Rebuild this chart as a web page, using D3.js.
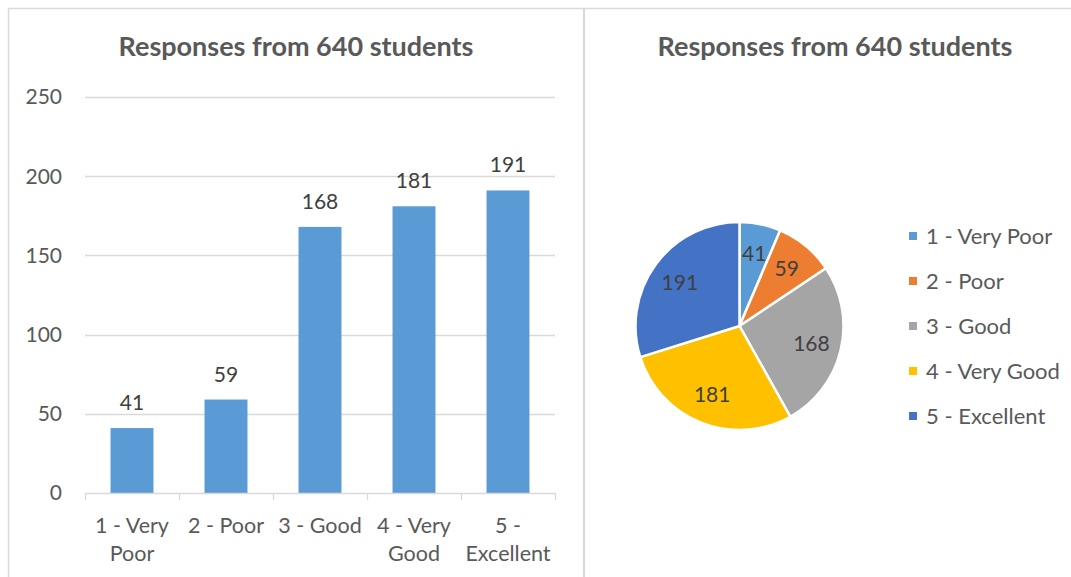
<!DOCTYPE html>
<html>
<head>
<meta charset="utf-8">
<script src="https://cdn.jsdelivr.net/npm/d3@7"></script>
<style>
html,body{margin:0;padding:0;background:#fff;}
svg{display:block;}
text{font-family:Lato,"Open Sans",sans-serif;}
</style>
</head>
<body>
<svg id="chart" width="1071" height="577"></svg>
<script>
const categories = ["1 - Very Poor","2 - Poor","3 - Good","4 - Very Good","5 - Excellent"];
const values = [41, 59, 168, 181, 191];
const xLabelLines = [["1 - Very","Poor"],["2 - Poor"],["3 - Good"],["4 - Very","Good"],["5 -","Excellent"]];
const yTicks = [0, 50, 100, 150, 200, 250];
const pieColors = ["#5B9BD5","#ED7D31","#A5A5A5","#FFC000","#4472C4"];
const titleText = "Responses from 640 students";

const svg = d3.select("#chart");
const gridColor = "#d9d9d9";
const textColor = "#595959";
const labelColor = "#404040";

// frame
svg.append("line").attr("x1",8).attr("x2",1071).attr("y1",8.5).attr("y2",8.5).attr("stroke",gridColor).attr("stroke-width",1.5);
svg.append("line").attr("x1",8.5).attr("x2",8.5).attr("y1",8).attr("y2",577).attr("stroke",gridColor).attr("stroke-width",1.5);
svg.append("line").attr("x1",584).attr("x2",584).attr("y1",8).attr("y2",577).attr("stroke",gridColor).attr("stroke-width",2);

// ---------- Bar chart ----------
const x = d3.scaleBand().domain(categories).range([85,555]).paddingInner(0.543).paddingOuter(0.2715);
const y = d3.scaleLinear().domain([0,250]).range([493,97]);

svg.append("text").attr("x",296).attr("y",56).attr("text-anchor","middle")
  .attr("font-size",27).attr("font-weight","bold").attr("fill",textColor).text(titleText);

// gridlines
svg.append("g").selectAll("line").data(yTicks.filter(d=>d>0)).join("line")
  .attr("x1",85).attr("x2",555).attr("y1",d=>Math.round(y(d))+0.5).attr("y2",d=>Math.round(y(d))+0.5)
  .attr("stroke",gridColor).attr("stroke-width",1.3);

// y axis labels
svg.append("g").selectAll("text").data(yTicks).join("text")
  .attr("x",62).attr("y",d=>y(d)).attr("dy","0.35em").attr("text-anchor","end")
  .attr("font-size",21).attr("fill",textColor).text(d=>d);

// bars
svg.append("g").selectAll("rect").data(values).join("rect")
  .attr("x",(d,i)=>x(categories[i])).attr("width",x.bandwidth())
  .attr("y",d=>y(d)).attr("height",d=>y(0)-y(d)).attr("fill","#5B9BD5");

// value labels
svg.append("g").selectAll("text").data(values).join("text")
  .attr("x",(d,i)=>x(categories[i])+x.bandwidth()/2).attr("y",d=>y(d)-18)
  .attr("text-anchor","middle").attr("font-size",21).attr("fill",labelColor).text(d=>d);

// x axis line + ticks
svg.append("line").attr("x1",85).attr("x2",555).attr("y1",493.5).attr("y2",493.5).attr("stroke",gridColor).attr("stroke-width",1.3);
const boundaries = categories.map(c=>x(c)-x.step()*x.paddingInner()/2).concat([555]);
boundaries[0] = 85;
svg.append("g").selectAll("line").data(boundaries).join("line")
  .attr("x1",d=>Math.round(d)+0.5).attr("x2",d=>Math.round(d)+0.5).attr("y1",493).attr("y2",500)
  .attr("stroke",gridColor).attr("stroke-width",1.3);

// x labels
const xl = svg.append("g");
xLabelLines.forEach((lines,i)=>{
  const t = xl.append("text").attr("text-anchor","middle").attr("font-size",21.5).attr("fill",textColor);
  lines.forEach((ln,j)=>{
    t.append("tspan").attr("x",x(categories[i])+x.bandwidth()/2).attr("y",533+j*28).text(ln);
  });
});

// ---------- Pie chart ----------
svg.append("text").attr("x",835).attr("y",56).attr("text-anchor","middle")
  .attr("font-size",27).attr("font-weight","bold").attr("fill",textColor).text(titleText);

const cx = 739.5, cy = 326, r = 104;
const pie = d3.pie().sort(null).value(d=>d);
const arcs = pie(values);
const arc = d3.arc().innerRadius(0).outerRadius(r);
const labelArc = d3.arc().innerRadius(74).outerRadius(74);
const pg = svg.append("g").attr("transform",`translate(${cx},${cy})`);
pg.selectAll("path").data(arcs).join("path")
  .attr("d",arc).attr("fill",(d,i)=>pieColors[i]).attr("stroke","#fff").attr("stroke-width",2.5).attr("stroke-linejoin","round");
pg.selectAll("text").data(arcs).join("text")
  .attr("transform",d=>`translate(${labelArc.centroid(d)})`).attr("dy","0.35em")
  .attr("text-anchor","middle").attr("font-size",21).attr("fill",labelColor).text(d=>d.data);

// legend
const lg = svg.append("g");
categories.forEach((c,i)=>{
  const ry = 236 + i*45;
  lg.append("rect").attr("x",909).attr("y",ry-4).attr("width",8).attr("height",8).attr("fill",pieColors[i]);
  lg.append("text").attr("x",926).attr("y",ry).attr("dy","0.35em").attr("font-size",22).attr("fill",textColor).text(c);
});
</script>
</body>
</html>
